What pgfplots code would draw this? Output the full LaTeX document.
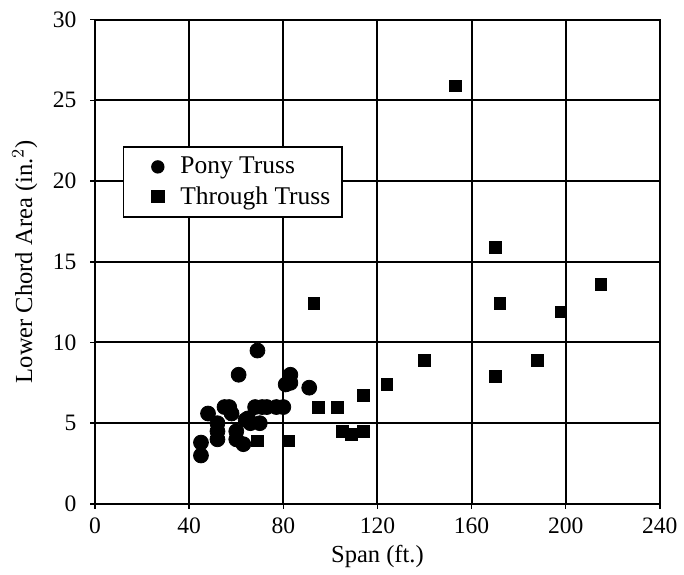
\documentclass[border=0pt]{standalone}
\usepackage{pgfplots}
\pgfplotsset{compat=1.18}
\usepackage{fontspec}
\setmainfont{Liberation Serif}

\pgfplotstableread{
x y
45 3.8
45 3.0
48 5.6
52 4.0
52 4.5
52 5.0
55 6.0
57 6.0
58 5.6
60 4.0
60 4.5
61 8.0
63 3.7
64 5.2
65 5.3
66 5.0
68 6.0
69 9.5
70 5.0
71 6.0
73 6.0
77 6.0
80 6.0
81 7.4
83 7.5
83 8.0
91 7.2
}\pony

\pgfplotstableread{
x y
69 3.9
82 3.9
93 12.4
95 6.0
103 6.0
105 4.5
109 4.3
114 4.5
114 6.7
124 7.4
140 8.9
153 25.9
170 15.9
170 7.9
172 12.4
188 8.9
198 11.9
215 13.6
}\through

\begin{document}
\begin{tikzpicture}
\begin{axis}[
  width=288pt, height=247pt,
  scale only axis,
  xmin=0, xmax=240, ymin=0, ymax=30,
  xtick={0,40,...,240}, ytick={0,5,...,30},
  grid=major,
  grid style={black, line width=1pt},
  axis line style={black, line width=1pt},
  tick pos=left,
  tick align=outside,
  major tick length=2.5pt,
  tick style={black, line width=0.8pt},
  ticklabel style={font=\fontsize{12}{13}\selectfont},
  yticklabel style={xshift=-3.5pt},
  xticklabel style={yshift=-1pt},
  /pgf/number format/assume math mode=true,
  xlabel={Span (ft.)},
  ylabel={Lower Chord Area (in.$^2$)},
  label style={font=\fontsize{12.5}{14}\selectfont},
  xlabel style={yshift=1pt},
  ylabel style={yshift=1pt},
  legend style={at={(rel axis cs:0.049,0.738)}, anchor=north west, draw=black,
    line width=0.8pt, font=\fontsize{13}{15}\selectfont,
    inner xsep=4pt, inner ysep=3pt, row sep=1pt, fill=white},
  legend cell align=left,
  legend image code/.code={\path (0,0) (0.78cm,0);
    \draw[#1, mark size=3pt] plot coordinates {(0.46cm,0cm)};},
]
\addplot[only marks, mark=*, mark size=3.8pt, black] table[x=x,y=y] {\pony};
\addlegendentry{Pony Truss}
\addplot[only marks, mark=square*, mark size=3pt, black] table[x=x,y=y] {\through};
\addlegendentry{Through Truss}
\end{axis}
\path (current axis.north west) ++(-48.5pt,10pt);
\path (current axis.south east) ++(9.5pt,-32pt);
\end{tikzpicture}
\end{document}
